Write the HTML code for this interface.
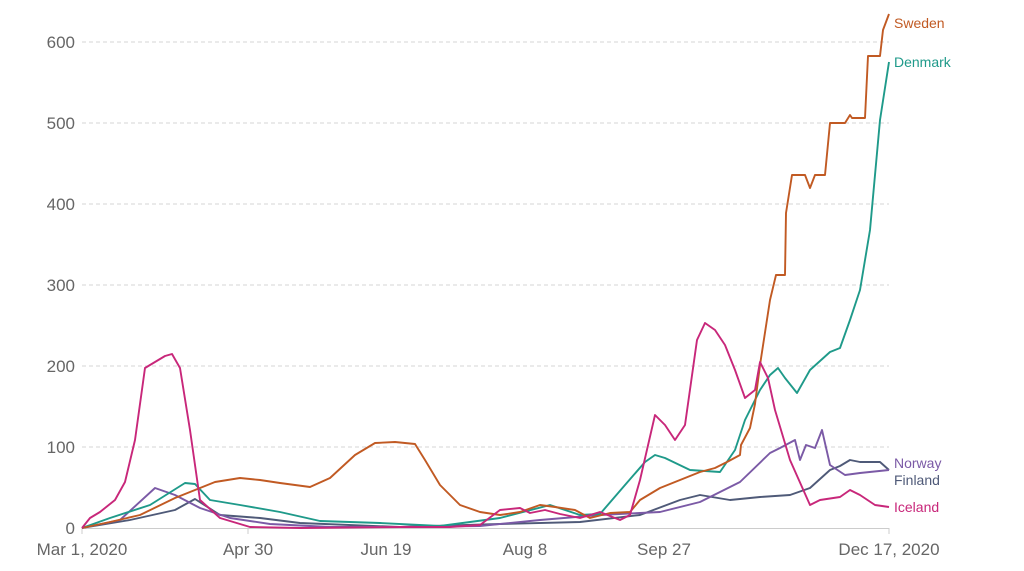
<!DOCTYPE html>
<html><head><meta charset="utf-8"><style>
body{margin:0;background:#fff}
svg text{font-family:"Liberation Sans",sans-serif}
</style></head><body>
<svg width="1024" height="566" viewBox="0 0 1024 566">
<g stroke="#d6d6d6" stroke-dasharray="4,3" stroke-width="1">
<line x1="82" y1="42" x2="889" y2="42"/><line x1="82" y1="123" x2="889" y2="123"/>
<line x1="82" y1="204" x2="889" y2="204"/><line x1="82" y1="285" x2="889" y2="285"/>
<line x1="82" y1="366" x2="889" y2="366"/><line x1="82" y1="447" x2="889" y2="447"/>
</g>
<line x1="82" y1="528.5" x2="889" y2="528.5" stroke="#ccc"/>
<g stroke="#ccc"><line x1="82" y1="528" x2="82" y2="534"/><line x1="248" y1="528" x2="248" y2="534"/><line x1="889" y1="528" x2="889" y2="534"/></g>
<g fill="#666" font-size="17" text-anchor="end">
<text x="75" y="48">600</text><text x="75" y="129">500</text><text x="75" y="210">400</text>
<text x="75" y="291">300</text><text x="75" y="372">200</text><text x="75" y="453">100</text><text x="75" y="534">0</text>
</g>
<g fill="#666" font-size="17" text-anchor="middle">
<text x="82" y="555">Mar 1, 2020</text><text x="248" y="555">Apr 30</text><text x="386" y="555">Jun 19</text>
<text x="525" y="555">Aug 8</text><text x="664" y="555">Sep 27</text><text x="889" y="555">Dec 17, 2020</text>
</g>
<g fill="none" stroke-width="1.9" stroke-linejoin="round">
<polyline stroke="#4f5a78" points="82,528 130,520 175,510 195,499 220,515 260,518 300,523 400,527 500,524 580,522 640,515 680,500 700,495 730,500 760,497 790,495 810,488 830,470 840,466 850,460 860,462 880,462 889,470"/>
<polyline stroke="#7b5aa6" points="82,528 120,520 155,488 175,495 200,508 230,518 270,524 330,527 400,527 480,526 540,520 600,515 660,512 700,502 740,482 770,453 780,448 795,440 800,460 806,445 815,448 822,430 830,465 845,475 860,473 889,470"/>
<polyline stroke="#1f9a8a" points="82,528 110,518 150,505 185,483 195,484 210,500 240,505 280,512 320,521 380,523 440,526 500,518 550,505 580,515 600,514 625,485 645,462 655,455 665,458 690,470 720,472 735,450 745,420 760,390 770,375 778,368 785,378 797,393 810,370 830,352 840,348 850,320 860,290 870,230 880,120 889,62"/>
<polyline stroke="#c15a23" points="82,528 110,522 140,515 175,498 200,488 215,482 240,478 260,480 280,483 310,487 330,478 355,455 375,443 395,442 415,444 425,460 440,485 460,505 480,512 500,515 520,512 540,505 555,507 575,510 590,518 610,513 630,512 640,500 660,488 680,480 700,472 715,468 727,462 740,455 741,445 750,428 755,404 760,365 770,300 776,275 785,275 786,213 792,175 805,175 810,188 815,175 825,175 830,123 845,123 850,115 852,118 865,118 868,56 880,56 883,30 889,14"/>
<polyline stroke="#c8277a" points="82,528 90,518 100,512 115,500 125,482 135,440 145,368 155,362 165,356 172,354 180,368 190,430 200,500 220,518 250,527 300,528 400,527 450,527 480,525 500,510 520,508 530,513 545,510 560,514 580,518 600,512 620,520 630,515 640,480 655,415 665,425 675,440 685,425 697,340 705,323 715,330 725,345 735,370 745,398 755,390 760,362 768,378 775,410 790,460 810,505 820,500 840,497 850,490 860,495 875,505 889,507"/>
</g>
<g font-size="14">
<text x="894" y="28" fill="#c15a23">Sweden</text>
<text x="894" y="67" fill="#1f9a8a">Denmark</text>
<text x="894" y="468" fill="#7b5aa6">Norway</text>
<text x="894" y="485" fill="#4f5a78">Finland</text>
<text x="894" y="512" fill="#c8277a">Iceland</text>
</g>
</svg>
</body></html>
